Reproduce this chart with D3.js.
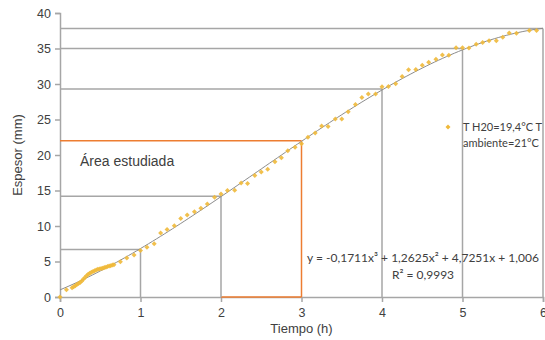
<!DOCTYPE html>
<html>
<head>
<meta charset="utf-8">
<script src="https://cdn.jsdelivr.net/npm/d3@7"></script>
<style>
  body { margin: 0; background: #fff; }
  text { font-family: "Liberation Sans", Arial, sans-serif; fill: #404040; }
  .calibri { font-family: Lato, "Open Sans", sans-serif; }
</style>
</head>
<body>
<div id="chart"></div>
<script>
// measured thickness (mm) over time (h)
const tiempo = [
  0, 0.08, 0.15, 0.17, 0.19, 0.21, 0.23, 0.25, 0.27, 0.29, 0.31, 0.33, 0.35, 0.37,
  0.39, 0.41, 0.43, 0.45, 0.47, 0.49, 0.51, 0.53, 0.55, 0.57, 0.59, 0.61, 0.63, 0.65, 0.67,
  0.75, 0.83, 0.92, 1.0, 1.08, 1.17, 1.25, 1.33, 1.42, 1.5, 1.58, 1.67, 1.75, 1.83, 1.92,
  2.0, 2.08, 2.17, 2.25, 2.33, 2.42, 2.5, 2.58, 2.67, 2.75, 2.83, 2.92,
  3.0, 3.08, 3.17, 3.25, 3.33, 3.42, 3.5, 3.58, 3.67, 3.75, 3.83, 3.92,
  4.0, 4.08, 4.17, 4.25, 4.33, 4.42, 4.5, 4.58, 4.67, 4.75, 4.83, 4.92,
  5.0, 5.08, 5.17, 5.25, 5.33, 5.42, 5.5, 5.58, 5.67, 5.83, 5.92
];
const espesor = [
  0, 1.03, 1.3, 1.45, 1.6, 1.75, 1.9, 2.05, 2.25, 2.5, 2.75, 3.0, 3.2, 3.35,
  3.5, 3.6, 3.7, 3.8, 3.9, 3.95, 4.0, 4.05, 4.15, 4.2, 4.3, 4.35, 4.4, 4.5, 4.55,
  4.95, 5.5, 5.9, 6.55, 7.0, 7.5, 9.0, 9.5, 10.05, 11.07, 11.55, 12.0, 12.5, 13.1, 14.05,
  14.5, 15.0, 15.05, 16.05, 16.0, 17.1, 17.6, 18.0, 19.05, 19.6, 20.6, 21.1,
  21.6, 22.5, 23.1, 24.1, 24.0, 25.07, 25.07, 26.1, 27.1, 28.1, 28.6, 28.6,
  29.6, 29.65, 30.05, 31.07, 32.0, 32.05, 32.65, 33.05, 33.5, 34.1, 34.05, 35.1,
  35.1, 35.07, 35.6, 35.86, 36.1, 36.1, 36.6, 37.2, 37.15, 37.55, 37.55
];

// cubic trendline coefficients (x^3, x^2, x, 1)
const coef = [-0.1711, 1.2625, 4.7251, 1.006];

// guide lines: time marks and the thickness they reach
const guideX = [1, 2, 3, 4, 5, 6];
const guideY = [6.7, 14.2, 22.0, 29.3, 35.0, 37.8];
const highlighted = 3;

const xTicks = [0, 1, 2, 3, 4, 5, 6];
const yTicks = [0, 5, 10, 15, 20, 25, 30, 35, 40];

const width = 545, height = 340;
const margin = { top: 13, right: 2, bottom: 43, left: 60 };

const svg = d3.select('#chart').append('svg')
  .attr('width', width)
  .attr('height', height)
  .style('background', '#fff');

const x = d3.scaleLinear().domain([0, 6]).range([margin.left, width - margin.right]);
const y = d3.scaleLinear().domain([0, 40]).range([height - margin.bottom, margin.top]);

const grey = '#a6a6a6';
const orange = '#ed7d31';

// y axis
const yAxis = svg.append('g')
  .attr('transform', `translate(${x(0)},0)`)
  .call(d3.axisLeft(y).tickValues(yTicks).tickSize(5).tickPadding(4));
yAxis.select('.domain').attr('stroke', grey).attr('stroke-width', 1.5);
yAxis.selectAll('.tick line').attr('stroke', grey).attr('stroke-width', 1.5);
yAxis.selectAll('.tick text').attr('font-size', 12.5).attr('fill', '#404040')
  .attr('font-family', '"Liberation Sans", Arial, sans-serif');

// x axis
const xAxis = svg.append('g')
  .attr('transform', `translate(0,${y(0)})`)
  .call(d3.axisBottom(x).tickValues(xTicks).tickFormat(d3.format('d')).tickSize(5).tickPadding(6));
xAxis.select('.domain').attr('stroke', grey).attr('stroke-width', 1.5);
xAxis.selectAll('.tick line').attr('stroke', grey).attr('stroke-width', 1.5);
xAxis.selectAll('.tick text').attr('font-size', 12.5).attr('fill', '#404040')
  .attr('font-family', '"Liberation Sans", Arial, sans-serif');

// guide lines
const guides = guideX.map((gx, i) => ({ gx: gx, gy: guideY[i] }));
const guideG = svg.append('g');
guideG.append('line')
  .attr('x1', x(2)).attr('x2', x(3))
  .attr('y1', y(0)).attr('y2', y(0))
  .attr('stroke', orange).attr('stroke-width', 1.5);
guideG.selectAll('.h').data(guides).enter().append('line')
  .attr('x1', x(0)).attr('x2', d => x(d.gx))
  .attr('y1', d => y(d.gy)).attr('y2', d => y(d.gy))
  .attr('stroke', d => d.gx === highlighted ? orange : grey)
  .attr('stroke-width', 1.5);
guideG.selectAll('.v').data(guides).enter().append('line')
  .attr('x1', d => x(d.gx)).attr('x2', d => x(d.gx))
  .attr('y1', y(0)).attr('y2', d => y(d.gy))
  .attr('stroke', d => d.gx === highlighted ? orange : grey)
  .attr('stroke-width', 1.5);

// trendline
const poly = t => ((coef[0] * t + coef[1]) * t + coef[2]) * t + coef[3];
const line = d3.line().x(t => x(t)).y(t => y(poly(t)));
svg.append('path')
  .attr('d', line(d3.range(0, 6.001, 0.05)))
  .attr('fill', 'none')
  .attr('stroke', '#8c8c8c')
  .attr('stroke-width', 1);

// data points
const markerColor = '#f0b93a';
const marker = d3.symbol().type(d3.symbolDiamond2).size(16);
svg.append('g').selectAll('path')
  .data(tiempo.map((t, i) => ({ t: t, e: espesor[i] })))
  .enter().append('path')
  .attr('d', marker)
  .attr('transform', d => `translate(${x(d.t)},${y(d.e)})`)
  .attr('fill', markerColor)
  .attr('opacity', 0.9);

// annotations
svg.append('text')
  .attr('x', 80).attr('y', 166)
  .attr('font-size', 14)
  .attr('fill', '#262626')
  .text('Área estudiada');

const eq = svg.append('text')
  .attr('class', 'calibri')
  .attr('x', 423).attr('y', 262)
  .attr('text-anchor', 'middle')
  .attr('font-size', 12)
  .attr('fill', '#262626');
eq.append('tspan').text('y = -0,1711x³ + 1,2625x² + 4,7251x + 1,006');
eq.append('tspan').attr('x', 423).attr('dy', 17).text('R² = 0,9993');

// legend
svg.append('path')
  .attr('d', marker)
  .attr('transform', 'translate(448,127)')
  .attr('fill', markerColor);
const leg = svg.append('text')
  .attr('class', 'calibri')
  .attr('x', 463).attr('y', 131)
  .attr('font-size', 11)
  .attr('fill', '#262626');
leg.append('tspan').text('T H20=19,4°C T');
leg.append('tspan').attr('x', 463).attr('dy', 16).text('ambiente=21°C');

// axis titles
svg.append('text')
  .attr('transform', `translate(22,${(y(0) + y(40)) / 2}) rotate(-90)`)
  .attr('text-anchor', 'middle')
  .attr('font-size', 13)
  .text('Espesor (mm)');
svg.append('text')
  .attr('x', (x(0) + x(6)) / 2).attr('y', 333)
  .attr('text-anchor', 'middle')
  .attr('font-size', 13)
  .text('Tiempo (h)');
</script>
</body>
</html>
